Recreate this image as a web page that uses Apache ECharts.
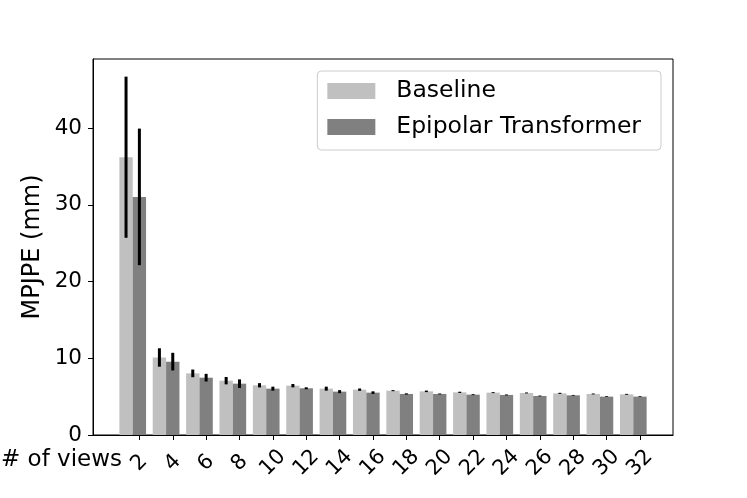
<!DOCTYPE html>
<html>
<head>
<meta charset="utf-8">
<script src="https://cdn.jsdelivr.net/npm/echarts@6/dist/echarts.min.js"></script>
<style>
  html, body { margin: 0; padding: 0; background: #fff; }
  #chart { width: 747px; height: 498px; }
</style>
</head>
<body>
<div id="chart"></div>
<script>
// ---- data ----
const views = [2, 4, 6, 8, 10, 12, 14, 16, 18, 20, 22, 24, 26, 28, 30, 32];
const baseline = [36.2, 10.1, 8.03, 7.08, 6.48, 6.43, 6.04, 5.91, 5.78, 5.69, 5.56, 5.52, 5.48, 5.43, 5.35, 5.3];
const baselineErr = [10.5, 1.2, 0.5, 0.48, 0.28, 0.22, 0.26, 0.15, 0.07, 0.1, 0.08, 0.06, 0.06, 0.07, 0.06, 0.06];
const epipolar = [31.03, 9.56, 7.47, 6.69, 6.04, 6.09, 5.65, 5.52, 5.35, 5.35, 5.26, 5.22, 5.09, 5.17, 5.0, 5.0];
const epipolarErr = [8.9, 1.15, 0.5, 0.56, 0.26, 0.13, 0.2, 0.17, 0.08, 0.06, 0.06, 0.06, 0.05, 0.05, 0.05, 0.05];
const yTicks = [0, 10, 20, 30, 40];
const seriesNames = ['Baseline', 'Epipolar Transformer'];

// ---- layout / style ----
const FONT = 'DejaVu Sans';
const BAR_UNITS = 0.8;            // bar width in x-axis units
const BASE_SHIFT = -0.8;          // baseline bar sits one bar-width left of tick
const X_MIN = -0.78, X_MAX = 33.98;
const GRID = { left: 93, right: 74, top: 59, bottom: 63 };
const plotW = 747 - GRID.left - GRID.right;
const barPx = plotW / (X_MAX - X_MIN) * BAR_UNITS;

const baseData = views.map((v, i) => [v + BASE_SHIFT, baseline[i]]);
const epiData = views.map((v, i) => [v, epipolar[i]]);
const errData = views.map((v, i) => [v + BASE_SHIFT, baseline[i], baselineErr[i]])
  .concat(views.map((v, i) => [v, epipolar[i], epipolarErr[i]]));

const chart = echarts.init(document.getElementById('chart'), null, { renderer: 'canvas' });
chart.setOption({
  animation: false,
  backgroundColor: '#ffffff',
  textStyle: { fontFamily: FONT },
  grid: Object.assign({ show: true, borderColor: '#000', borderWidth: 1, backgroundColor: 'transparent' }, GRID),
  legend: {
    data: seriesNames,
    orient: 'vertical',
    right: 86,
    top: 71,
    icon: 'rect',
    itemWidth: 48,
    itemHeight: 16,
    itemGap: 12,
    padding: [8, 20, 11, 10],
    backgroundColor: '#ffffff',
    borderColor: '#cccccc',
    borderWidth: 1,
    borderRadius: 4,
    textStyle: { fontFamily: FONT, fontSize: 23.5, color: '#000', padding: [0, 0, 0, 16] }
  },
  xAxis: {
    type: 'value',
    min: X_MIN,
    max: X_MAX,
    axisLine: { show: true, onZero: false, lineStyle: { color: '#000', width: 1 } },
    axisTick: { show: true, inside: false, length: 5, lineStyle: { color: '#000', width: 1 }, customValues: views },
    axisLabel: {
      customValues: views,
      rotate: 45,
      align: 'center',
      verticalAlign: 'middle',
      margin: 28,
      fontFamily: FONT,
      fontSize: 21,
      color: '#000'
    },
    splitLine: { show: false }
  },
  yAxis: {
    type: 'value',
    min: 0,
    max: 49,
    axisLine: { show: true, onZero: false, lineStyle: { color: '#000', width: 1 } },
    axisTick: { show: true, inside: false, length: 5, lineStyle: { color: '#000', width: 1 }, customValues: yTicks },
    axisLabel: { customValues: yTicks, margin: 11, fontFamily: FONT, fontSize: 21.5, color: '#000' },
    splitLine: { show: false }
  },
  graphic: [
    {
      type: 'text',
      x: 33, y: 247,
      rotation: Math.PI / 2,
      style: { text: 'MPJPE (mm)', fontFamily: FONT, fontSize: 24, fill: '#000', align: 'center', verticalAlign: 'middle' }
    },
    {
      type: 'text',
      x: 122, y: 460,
      style: { text: '# of views', fontFamily: FONT, fontSize: 23, fill: '#000', align: 'right', verticalAlign: 'middle' }
    }
  ],
  series: [
    {
      name: seriesNames[0],
      type: 'bar',
      data: baseData,
      barWidth: barPx,
      barGap: '-100%',
      itemStyle: { color: '#c0c0c0' },
      z: 2
    },
    {
      name: seriesNames[1],
      type: 'bar',
      data: epiData,
      barWidth: barPx,
      barGap: '-100%',
      itemStyle: { color: '#808080' },
      z: 2
    },
    {
      name: 'errors',
      type: 'custom',
      data: errData,
      encode: { x: 0, y: 1 },
      z: 5,
      renderItem: function (params, api) {
        const x = api.value(0), y = api.value(1), e = api.value(2);
        const p1 = api.coord([x, y + e]);
        const p2 = api.coord([x, y - e]);
        return {
          type: 'line',
          shape: { x1: p1[0], y1: p1[1], x2: p2[0], y2: p2[1] },
          style: { stroke: '#000', lineWidth: 3 }
        };
      }
    }
  ]
});
</script>
</body>
</html>
